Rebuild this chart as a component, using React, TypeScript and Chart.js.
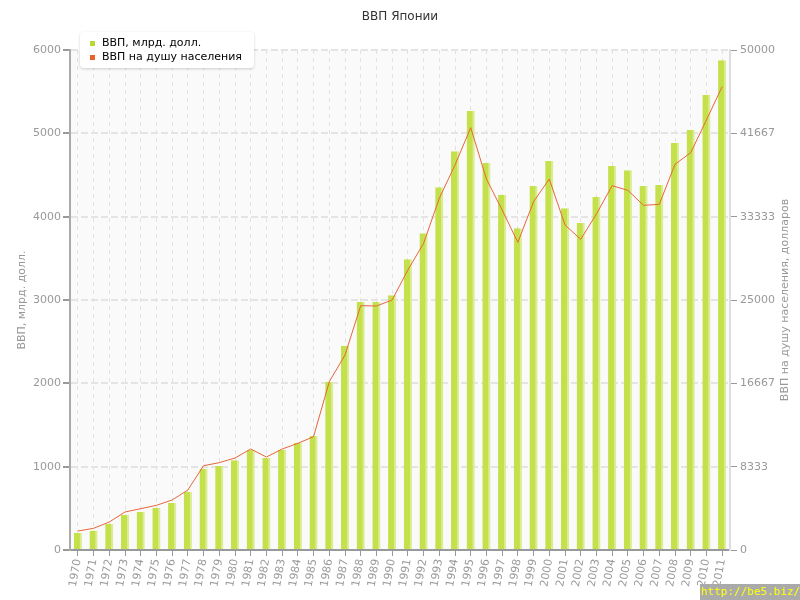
import React, { useEffect, useRef } from "react";
import { Chart, registerables } from "chart.js";

Chart.register(...registerables);

const years = [
  "1970", "1971", "1972", "1973", "1974", "1975", "1976", "1977", "1978", "1979",
  "1980", "1981", "1982", "1983", "1984", "1985", "1986", "1987", "1988", "1989",
  "1990", "1991", "1992", "1993", "1994", "1995", "1996", "1997", "1998", "1999",
  "2000", "2001", "2002", "2003", "2004", "2005", "2006", "2007", "2008", "2009",
  "2010", "2011",
];

// ВВП, млрд. долл.
const gdp = [
  205, 232, 312, 420, 460, 504, 564, 696, 972, 1008,
  1076, 1200, 1104, 1204, 1284, 1368, 2020, 2452, 2976, 2976,
  3056, 3488, 3800, 4352, 4784, 5268, 4644, 4264, 3860, 4368,
  4668, 4100, 3924, 4236, 4608, 4556, 4368, 4380, 4884, 5040,
  5460, 5876,
];

// ВВП на душу населения, долларов
const gdpPerCapita = [
  1900, 2167, 2800, 3800, 4133, 4467, 5000, 6000, 8433, 8733,
  9200, 10100, 9300, 10100, 10667, 11333, 16833, 19500, 24433, 24400,
  25000, 28000, 30667, 35167, 38500, 42233, 37100, 34000, 30767, 34833,
  37100, 32500, 31067, 33600, 36433, 35967, 34467, 34567, 38567, 39733,
  43000, 46333,
];

const leftTicks = [0, 1000, 2000, 3000, 4000, 5000, 6000];
const rightTickLabels = ["0", "8333", "16667", "25000", "33333", "41667", "50000"];
const rightMax = 50000;

const titleText = "ВВП Японии";
const leftAxisTitle = "ВВП, млрд. долл.";
const rightAxisTitle = "ВВП на душу населения, долларов";
const barLabel = "ВВП, млрд. долл.";
const lineLabel = "ВВП на душу населения";

const FONT = "'DejaVu Sans', Verdana, sans-serif";

const bgPlugin = {
  id: "plotBg",
  beforeDraw(chart: any) {
    const { ctx, chartArea } = chart;
    if (!chartArea) return;
    ctx.save();
    ctx.fillStyle = "#fafafa";
    ctx.fillRect(chartArea.left, chartArea.top, chartArea.right - chartArea.left, chartArea.bottom - chartArea.top);
    ctx.restore();
  },
};

const axisTitlesPlugin = {
  id: "axisTitles",
  afterDraw(chart: any) {
    const { ctx, chartArea } = chart;
    const cy = (chartArea.top + chartArea.bottom) / 2;
    ctx.save();
    ctx.font = `11px ${FONT}`;
    ctx.fillStyle = "#999999";
    ctx.textAlign = "center";
    ctx.textBaseline = "middle";
    ctx.translate(22, cy);
    ctx.rotate(-Math.PI / 2);
    ctx.fillText(leftAxisTitle, 0, 0);
    ctx.restore();
    ctx.save();
    ctx.font = `11px ${FONT}`;
    ctx.fillStyle = "#999999";
    ctx.textAlign = "center";
    ctx.textBaseline = "middle";
    ctx.translate(785, cy);
    ctx.rotate(-Math.PI / 2);
    ctx.fillText(rightAxisTitle, 0, 0);
    ctx.restore();
  },
};

export default function App() {
  const canvasRef = useRef<HTMLCanvasElement | null>(null);

  useEffect(() => {
    if (!canvasRef.current) return;
    const chart = new Chart(canvasRef.current, {
      type: "bar",
      data: {
        labels: years,
        datasets: [
          {
            type: "line",
            label: lineLabel,
            data: gdpPerCapita,
            yAxisID: "y2",
            borderColor: "#e8663c",
            backgroundColor: "#e8663c",
            borderWidth: 1,
            pointRadius: 0,
            tension: 0,
            order: 0,
          } as any,
          {
            type: "bar",
            label: barLabel,
            data: gdp,
            yAxisID: "y",
            backgroundColor: "#c4e04a",
            borderColor: "#dbec93",
            borderWidth: { top: 0, right: 2, bottom: 0, left: 0 },
            borderSkipped: false,
            categoryPercentage: 1,
            barPercentage: 0.52,
            order: 1,
          } as any,
        ],
      },
      options: {
        animation: false,
        responsive: false,
        maintainAspectRatio: false,
        layout: { padding: { left: 0, right: 0, top: 0, bottom: 0 } },
        plugins: {
          legend: { display: false },
          tooltip: { enabled: false },
          title: {
            display: true,
            text: titleText,
            color: "#333333",
            font: { family: FONT, size: 12, weight: "normal" },
            padding: { top: 10, bottom: 25.6 },
          },
        },
        scales: {
          x: {
            z: 1,
            afterFit: (s: any) => {
              s.height = 50;
            },
            grid: {
              offset: false,
              color: "#e2e2e2",
              lineWidth: 1,
              borderDash: [4, 4],
              tickColor: "#999999",
              tickLength: 6,
              tickBorderDash: [],
            } as any,
            border: { display: true, color: "#999999", width: 2, dash: [4, 4] } as any,
            ticks: {
              color: "#999999",
              font: { family: FONT, size: 11 },
              minRotation: 80,
              maxRotation: 80,
              autoSkip: false,
              padding: 2,
            },
          },
          y: {
            position: "left",
            min: 0,
            max: 6000,
            afterFit: (s: any) => {
              s.width = 70;
            },
            afterBuildTicks: (s: any) => {
              s.ticks = leftTicks.map((v) => ({ value: v }));
            },
            grid: {
              color: "#e4e4e4",
              lineWidth: 2,
              borderDash: [7, 3],
              tickColor: "#999999",
              tickLength: 7,
              tickBorderDash: [],
            } as any,
            border: { display: true, color: "#aaaaaa", width: 2, dash: [7, 3] } as any,
            ticks: {
              color: "#999999",
              font: { family: FONT, size: 11 },
              padding: 2,
              callback: (v: any) => String(v),
            },
          },
          y2: {
            position: "right",
            min: 0,
            max: rightMax,
            afterFit: (s: any) => {
              s.width = 70;
            },
            afterBuildTicks: (s: any) => {
              s.ticks = rightTickLabels.map((_, i) => ({ value: (rightMax * i) / (rightTickLabels.length - 1) }));
            },
            grid: {
              drawOnChartArea: false,
              color: "#999999",
              tickColor: "#999999",
              tickLength: 7,
              tickBorderDash: [],
            } as any,
            border: { display: true, color: "#dddddd", width: 2 } as any,
            ticks: {
              color: "#999999",
              font: { family: FONT, size: 11 },
              padding: 3,
              callback: (_v: any, i: number) => rightTickLabels[i],
            },
          },
        },
      },
      plugins: [bgPlugin, axisTitlesPlugin],
    });
    return () => chart.destroy();
  }, []);

  return (
    <div style={{ position: "fixed", left: 0, top: 0, width: 800, height: 600, background: "#ffffff" }}>
      <canvas ref={canvasRef} width={800} height={600} style={{ display: "block", width: 800, height: 600 }} />
      <div
        style={{
          position: "absolute",
          left: 80,
          top: 32,
          width: 174,
          height: 36,
          background: "#ffffff",
          borderRadius: 4,
          boxShadow: "0 1px 3px rgba(0,0,0,0.18)",
          fontFamily: FONT,
          fontSize: 11,
          color: "#000000",
          boxSizing: "border-box",
          padding: "4px 0 0 10px",
          lineHeight: "14px",
        }}
      >
        <div style={{ display: "flex", alignItems: "center" }}>
          <span style={{ display: "inline-block", width: 5, height: 5, background: "#b5d935", marginRight: 7 }} />
          <span>{barLabel}</span>
        </div>
        <div style={{ display: "flex", alignItems: "center" }}>
          <span style={{ display: "inline-block", width: 5, height: 5, background: "#e8622c", marginRight: 7 }} />
          <span>{lineLabel}</span>
        </div>
      </div>
      <div
        style={{
          position: "absolute",
          left: 700,
          top: 584,
          width: 100,
          height: 16,
          background: "#aaaaaa",
          color: "#ffff00",
          fontFamily: "'DejaVu Sans Mono', monospace",
          fontSize: 11,
          lineHeight: "16px",
          textAlign: "right",
          whiteSpace: "nowrap",
          overflow: "hidden",
        }}
      >
        http://be5.biz/
      </div>
    </div>
  );
}
